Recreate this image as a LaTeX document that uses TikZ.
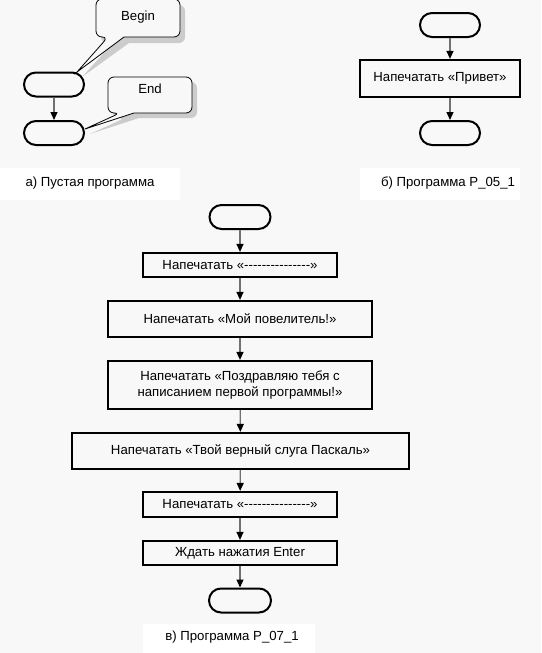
\documentclass[tikz,border=0pt]{standalone}
\usepackage{fontspec}
\setmainfont{Liberation Sans}
\usetikzlibrary{arrows.meta}
\definecolor{bg}{HTML}{F8F8F8}
\definecolor{ln}{HTML}{707070}
\newcommand\hy{-\kern0pt}
\newcommand\dashes{\hy\hy\hy\hy\hy\hy\hy\hy\hy\hy\hy\hy\hy\hy\hy}
\begin{document}
\begin{tikzpicture}[x=1pt,y=-1pt,
  font=\fontsize{13.2}{16}\selectfont,
  term/.style={draw=black,line width=2pt,fill=bg,rounded corners=12pt,minimum width=#1,minimum height=24pt,inner sep=0pt},
  term/.default=60pt,
  proc/.style n args={2}{draw=black,line width=2.2pt,fill=bg,minimum width=#1,minimum height=#2,inner sep=0pt,align=center},
  flow/.style={draw=ln,line width=1.2pt,-{Triangle[length=8pt,width=7pt,fill=black,color=black]}},
  bline/.style={draw=black,line width=0.8pt,fill=bg},
  bshadow/.style={fill=gray!40}]
\useasboundingbox[fill=bg] (0,0) rectangle (541,653);
% caption backgrounds
\fill[white] (0,168) rectangle (180,200);
\fill[white] (360,168) rectangle (520,200);
\fill[white] (143,624) rectangle (315,653);
% panel a
\node[term] (a1) at (54,84.5) {};
\node[term] (a2) at (54,133) {};
\draw[flow] (a1) -- (a2);
% callout bubbles
\coordinate (tb) at (77,72);
\coordinate (te) at (85,129);
\fill[bshadow] (113,43) -- ([shift={(5,5)}]tb) -- (129,43) [rounded corners=6pt] -- (185,43) -- (185,5) -- (101,5) -- (101,43) -- cycle;
\path[bline] (108,37) -- (tb) -- (124,37) [rounded corners=6pt] -- (180,37) -- (180,-1) -- (96,-1) -- (96,37) -- cycle;
\fill[bshadow] (125,118) -- ([shift={(5,5)}]te) -- (139,118) [rounded corners=6pt] -- (197,118) -- (197,82) -- (113,82) -- (113,118) -- cycle;
\path[bline] (120,113) -- (te) -- (134,113) [rounded corners=6pt] -- (192,113) -- (192,77) -- (108,77) -- (108,113) -- cycle;
\node (ab) at (138,17) {Begin};
\node (ae) at (150,89) {End};
\node (ca) at (90,183) {а) Пустая программа};
% panel b
\node[term] (b1) at (450,25) {};
\node[proc={160pt}{37pt}] (b2) at (440,78.5) {Напечатать «Привет»};
\node[term] (b3) at (450,133) {};
\draw[flow] (b1) -- (b2.north -| b1);
\draw[flow] (b2.south -| b1) -- (b3);
\node (cb) at (448,183) {б) Программа P\_05\_1};
% panel c
\node[term=61pt] (c0) at (240,217) {};
\node[proc={194pt}{24pt}] (c1) at (240,265) {Напечатать «\dashes»};
\node[proc={264pt}{36pt}] (c2) at (240,319) {Напечатать «Мой повелитель!»};
\node[proc={264pt}{48pt}] (c3) at (240,385) {Напечатать «Поздравляю тебя с\\написанием первой программы!»};
\node[proc={337pt}{36pt}] (c4) at (240.5,451) {Напечатать «Твой верный слуга Паскаль»};
\node[proc={194pt}{25pt}] (c5) at (240,504.5) {Напечатать «\dashes»};
\node[proc={194pt}{24pt}] (c6) at (240,553) {Ждать нажатия Enter};
\node[term=62pt] (c7) at (240,600.5) {};
\draw[flow] (c0) -- (c1);
\draw[flow] (c1) -- (c2);
\draw[flow] (c2) -- (c3);
\draw[flow] (c3) -- (c4);
\draw[flow] (c4) -- (c5);
\draw[flow] (c5) -- (c6);
\draw[flow] (c6) -- (c7);
\node (cc) at (232,637) {в) Программа P\_07\_1};
\end{tikzpicture}
\end{document}
